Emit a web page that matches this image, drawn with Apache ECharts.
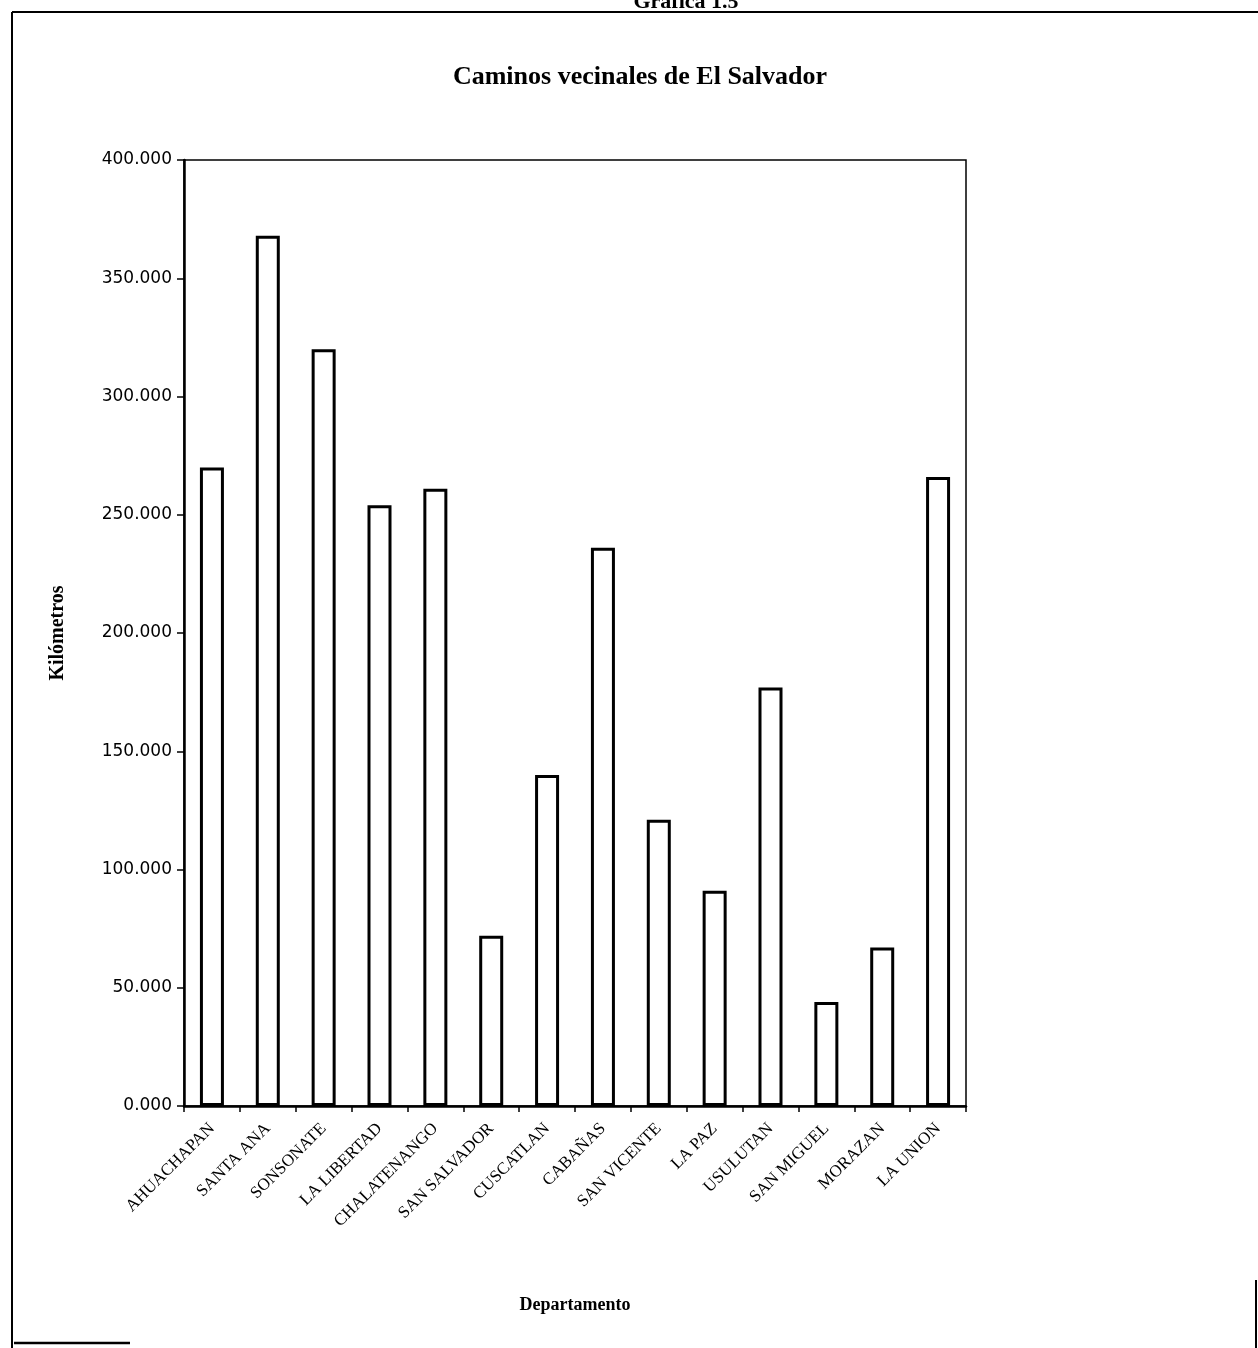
<!DOCTYPE html>
<html>
<head>
<meta charset="utf-8">
<script src="https://cdn.jsdelivr.net/npm/echarts@6/dist/echarts.min.js"></script>
<style>
html,body{margin:0;padding:0;background:#fff;}
#chart{width:1258px;height:1348px;}
</style>
</head>
<body>
<div id="chart"></div>
<script>
const categories = ['AHUACHAPAN','SANTA ANA','SONSONATE','LA LIBERTAD','CHALATENANGO','SAN SALVADOR','CUSCATLAN','CABAÑAS','SAN VICENTE','LA PAZ','USULUTAN','SAN MIGUEL','MORAZAN','LA UNION'];
const kilometros = [270, 368, 320, 254, 261, 72, 140, 236, 121, 91, 177, 44, 67, 266];
const titleText = 'Caminos vecinales de El Salvador';
const headerText = 'Gráfica 1.5';
const yAxisName = 'Kilómetros';
const xAxisName = 'Departamento';

const chart = echarts.init(document.getElementById('chart'));
const serif = '"Liberation Serif", "DejaVu Serif", serif';
chart.setOption({
  backgroundColor: '#fff',
  animation: false,
  title: {
    text: titleText,
    left: 635, top: 59, textAlign: 'center',
    textStyle: {fontFamily: serif, fontWeight: 'bold', fontSize: 26, color: '#000'}
  },
  grid: {left: 184, top: 160, right: 292, bottom: 242, show: true, borderColor: '#000', borderWidth: 1.5, backgroundColor: 'transparent'},
  xAxis: {
    type: 'category', data: categories,
    name: xAxisName, nameLocation: 'middle', nameGap: 190,
    nameTextStyle: {fontFamily: serif, fontWeight: 'bold', fontSize: 18, color: '#000'},
    axisLine: {lineStyle: {color: '#000', width: 2.5}},
    axisTick: {show: true, alignWithLabel: false, length: 6, lineStyle: {color: '#000', width: 1.5}},
    axisLabel: {rotate: 45, interval: 0, margin: 20, fontFamily: serif, fontSize: 17, color: '#000'},
    splitLine: {show: false}
  },
  yAxis: {
    type: 'value', min: 0, max: 400, interval: 50,
    name: yAxisName, nameLocation: 'middle', nameGap: 116, nameRotate: 90,
    nameTextStyle: {fontFamily: serif, fontWeight: 'bold', fontSize: 20, color: '#000'},
    axisLine: {show: true, lineStyle: {color: '#000', width: 2.5}},
    axisTick: {show: true, length: 7, lineStyle: {color: '#000', width: 1.5}},
    axisLabel: {margin: 12, fontFamily: '"DejaVu Sans", sans-serif', fontSize: 17, color: '#000',
      formatter: v => v.toFixed(3)},
    splitLine: {show: false}
  },
  series: [{
    type: 'bar', data: kilometros, barWidth: 24,
    itemStyle: {color: '#fff', borderColor: '#000', borderWidth: 3}
  }],
  graphic: [
    {type: 'line', shape: {x1: 12, y1: 12, x2: 1258, y2: 12}, style: {stroke: '#000', lineWidth: 2}},
    {type: 'line', shape: {x1: 12, y1: 12, x2: 12, y2: 1348}, style: {stroke: '#000', lineWidth: 2}},
    {type: 'line', shape: {x1: 1256, y1: 1280, x2: 1256, y2: 1348}, style: {stroke: '#000', lineWidth: 2}},
    {type: 'line', shape: {x1: 14, y1: 1343, x2: 130, y2: 1343}, style: {stroke: '#000', lineWidth: 2.5}},
    {type: 'text', x: 686, y: 13, style: {text: headerText, fill: '#000', font: 'bold 22px "Liberation Serif", serif', textAlign: 'center', textVerticalAlign: 'bottom'}}
  ]
});
</script>
</body>
</html>
